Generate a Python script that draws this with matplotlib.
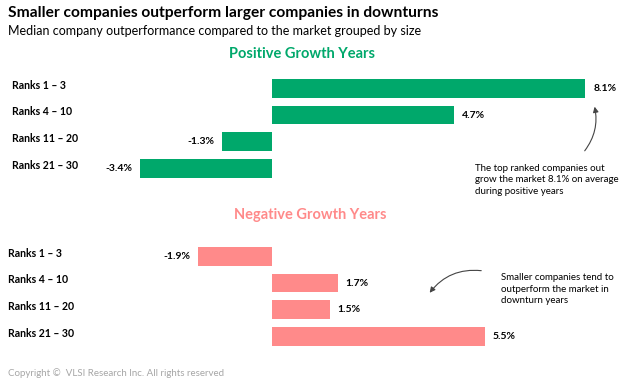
import matplotlib.pyplot as plt
import matplotlib.transforms as mtransforms
from matplotlib.patches import FancyArrowPatch

plt.rcParams['font.family'] = ['Lato', 'DejaVu Sans']

ranks = ["Ranks 1 \u2013 3", "Ranks 4 \u2013 10", "Ranks 11 \u2013 20", "Ranks 21 \u2013 30"]
positive_years = [8.1, 4.7, -1.3, -3.4]
negative_years = [-1.9, 1.7, 1.5, 5.5]

green = "#00A86B"
pink = "#FF8A8A"

fig = plt.figure(figsize=(6.29, 3.84), dpi=100)
W, H = 629, 384

def px_axes(top, bottom, left=100, right=600):
    return fig.add_axes([left / W, 1 - bottom / H, (right - left) / W, (bottom - top) / H])

ax_pos = px_axes(75, 181.7)
ax_neg = px_axes(243, 349.7)

xlim = (-(272 - 100) / 38.7, (600 - 272) / 38.7)

for ax, vals, color, label_x in [(ax_pos, positive_years, green, 12),
                                  (ax_neg, negative_years, pink, 8)]:
    y = range(len(ranks))
    ax.barh(y, vals, height=0.7, color=color)
    ax.set_xlim(*xlim)
    ax.set_ylim(len(ranks) - 0.5, -0.5)
    ax.axis("off")
    trans = mtransforms.blended_transform_factory(fig.transFigure, ax.transData)
    for i, (name, v) in enumerate(zip(ranks, vals)):
        ax.text(label_x / W, i - 0.12, name, transform=trans, ha="left", va="center",
                fontsize=7.6, fontweight="bold")
        off = 0.2
        if v >= 0:
            ax.text(v + off, i, f"{v:.1f}%", ha="left", va="center", fontsize=7.5, fontweight="bold")
        else:
            ax.text(v - off, i, f"{v:.1f}%", ha="right", va="center", fontsize=7.5, fontweight="bold")

fig.text(8 / W, 1 - 13 / H, "Smaller companies outperform larger companies in downturns",
         fontsize=11.2, fontweight="bold", ha="left", va="center")
fig.text(8 / W, 1 - 31 / H, "Median company outperformance compared to the market grouped by size",
         fontsize=9, ha="left", va="center")
fig.text(302 / W, 1 - 54 / H, "Positive Growth Years", fontsize=10.5, fontweight="bold",
         color=green, ha="center", va="center")
fig.text(310 / W, 1 - 215 / H, "Negative Growth Years", fontsize=10.5, fontweight="bold",
         color=pink, ha="center", va="center")

fig.text(475 / W, 1 - 180 / H,
         "The top ranked companies out\ngrow the market 8.1% on average\nduring positive years",
         fontsize=7, ha="left", va="center", linespacing=1.4)
fig.text(501 / W, 1 - 289 / H,
         "Smaller companies tend to\noutperform the market in\ndownturn years",
         fontsize=7, ha="left", va="center", linespacing=1.4)

fig.add_artist(FancyArrowPatch(
    (583 / W, 1 - 153 / H), (594 / W, 1 - 104 / H), transform=fig.transFigure,
    connectionstyle="arc3,rad=0.25", arrowstyle="-|>", mutation_scale=8,
    color="#444444", lw=0.8))
fig.add_artist(FancyArrowPatch(
    (484 / W, 1 - 271 / H), (428 / W, 1 - 295 / H), transform=fig.transFigure,
    connectionstyle="arc3,rad=0.3", arrowstyle="-|>", mutation_scale=8,
    color="#444444", lw=0.8))

fig.text(8 / W, 1 - 373 / H, "Copyright \u00a9  VLSI Research Inc. All rights reserved",
         fontsize=7, color="#A6A6A6", ha="left", va="center")

fig.savefig("out.png", dpi=100)
